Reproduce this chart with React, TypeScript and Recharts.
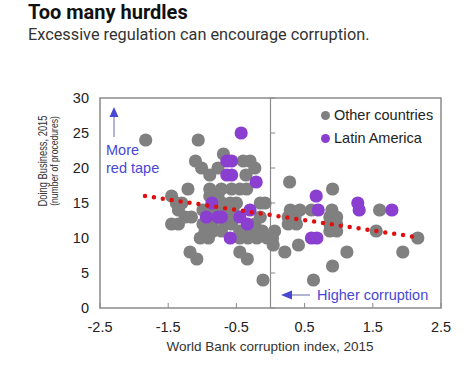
import { ScatterChart, Scatter, XAxis, YAxis, ReferenceLine, ReferenceArea, Legend } from 'recharts';

// World Bank corruption index (x) vs. number of procedures (y)
const otherCountries = [
  { x: -1.83, y: 24 }, { x: -1.06, y: 24 }, { x: -0.69, y: 22 }, { x: -1.1, y: 21 },
  { x: -1.01, y: 20 }, { x: -0.4, y: 21 }, { x: -0.3, y: 21 }, { x: -0.23, y: 20 },
  { x: -0.77, y: 20 }, { x: -0.89, y: 19 }, { x: -0.36, y: 19 }, { x: -1.21, y: 17 },
  { x: -0.89, y: 17 }, { x: -0.72, y: 17 }, { x: -0.57, y: 17 }, { x: -0.45, y: 17 },
  { x: -0.35, y: 17 }, { x: -0.89, y: 16 }, { x: -0.77, y: 16 }, { x: -1.45, y: 16 },
  { x: -1.38, y: 15 }, { x: -1.3, y: 15 }, { x: -0.71, y: 15 }, { x: -0.59, y: 15 },
  { x: -0.5, y: 15 }, { x: -0.15, y: 15 }, { x: -0.08, y: 15 }, { x: -1.35, y: 14 },
  { x: -0.99, y: 14 }, { x: -0.89, y: 14 }, { x: -0.74, y: 14 }, { x: -0.62, y: 14 },
  { x: -0.55, y: 14 }, { x: -1.25, y: 13 }, { x: -1.16, y: 13 }, { x: -0.62, y: 13 },
  { x: -0.52, y: 13 }, { x: -0.15, y: 13 }, { x: -1.45, y: 12 }, { x: -1.35, y: 12 },
  { x: -0.99, y: 12 }, { x: -0.86, y: 12 }, { x: -0.67, y: 12 }, { x: -0.57, y: 12 },
  { x: -0.23, y: 12 }, { x: -0.96, y: 11 }, { x: -0.84, y: 11 }, { x: -0.72, y: 11 },
  { x: -0.45, y: 11 }, { x: -0.35, y: 11 }, { x: -0.23, y: 11 }, { x: -0.12, y: 11 },
  { x: 0.06, y: 11 }, { x: -1.03, y: 10 }, { x: -0.91, y: 10 }, { x: -0.45, y: 10 },
  { x: -0.33, y: 10 }, { x: -0.2, y: 10 }, { x: -0.05, y: 10 }, { x: 0.03, y: 10 },
  { x: 0.04, y: 9 }, { x: -1.18, y: 8 }, { x: -1.08, y: 7 }, { x: -0.45, y: 8 },
  { x: -0.34, y: 7 }, { x: -0.11, y: 4 }, { x: 0.28, y: 18 }, { x: 0.91, y: 17 },
  { x: 0.29, y: 14 }, { x: 0.43, y: 14 }, { x: 0.6, y: 14 }, { x: 0.9, y: 14 },
  { x: 1.6, y: 14 }, { x: 0.26, y: 13 }, { x: 0.36, y: 13 }, { x: 0.87, y: 13 },
  { x: 0.97, y: 13 }, { x: 0.26, y: 12 }, { x: 0.38, y: 12 }, { x: 0.87, y: 12 },
  { x: 0.97, y: 12 }, { x: 0.87, y: 11 }, { x: 0.97, y: 11 }, { x: 1.55, y: 11 },
  { x: 2.16, y: 10 }, { x: 0.41, y: 9 }, { x: 0.21, y: 8 }, { x: 1.12, y: 8 },
  { x: 1.94, y: 8 }, { x: 0.91, y: 6 }, { x: 0.63, y: 4 },
];

const latinAmerica = [
  { x: -0.43, y: 25 }, { x: -0.64, y: 21 }, { x: -0.57, y: 21 }, { x: -0.64, y: 19 },
  { x: -0.57, y: 19 }, { x: -0.21, y: 18 }, { x: -0.86, y: 15 }, { x: -0.3, y: 14 },
  { x: -0.94, y: 13 }, { x: -0.77, y: 13 }, { x: -0.72, y: 13 }, { x: -0.45, y: 13 },
  { x: -0.34, y: 12 }, { x: -0.59, y: 10 }, { x: 0.67, y: 16 }, { x: 1.28, y: 15 },
  { x: 1.3, y: 14 }, { x: 0.7, y: 14 }, { x: 1.78, y: 14 }, { x: 0.6, y: 10 },
  { x: 0.68, y: 10 },
];

// dotted red fit line, read at its two ends
const trend = [
  { x: -1.84, y: 16 },
  { x: 2.09, y: 10.2 },
];

const xTicks = [-2.5, -1.5, -0.5, 0.5, 1.5, 2.5];
const yTicks = [0, 5, 10, 15, 20, 25, 30];

const GRAY = '#808080';
const PURPLE = '#8b3fd1';
const BLUE = '#4848d4';
const FONT = '"Liberation Sans", Arial, sans-serif';

const legendItems = [
  { name: 'Other countries', color: GRAY },
  { name: 'Latin America', color: PURPLE },
];

const dot = (color: string) => (props: any) => (
  <circle cx={props.cx} cy={props.cy} r={6.6} fill={color} />
);

function LegendBox() {
  return (
    <div style={{ fontFamily: FONT, fontSize: 14.5, color: '#222', lineHeight: '23px' }}>
      {legendItems.map((item) => (
        <div key={item.name} style={{ display: 'flex', alignItems: 'center', whiteSpace: 'nowrap' }}>
          <span
            style={{
              display: 'inline-block',
              width: 9,
              height: 9,
              borderRadius: '50%',
              background: item.color,
              marginRight: 4,
            }}
          />
          {item.name}
        </div>
      ))}
    </div>
  );
}

export default function App() {
  return (
    <div style={{ position: 'absolute', left: 0, top: 0, width: 474, height: 384, background: '#fff' }}>
      <ScatterChart
        width={474}
        height={384}
        margin={{ top: 98, right: 33, bottom: 36, left: 60 }}
      >
        <XAxis
          type="number"
          dataKey="x"
          domain={[-2.5, 2.5]}
          ticks={xTicks}
          axisLine={false}
          tickSize={-5}
          tickMargin={19}
          height={40}
          tickLine={{ stroke: '#8a8a8a' }}
          tick={{ fill: '#222', fontSize: 14.5, fontFamily: FONT }}
        />
        <YAxis
          type="number"
          dataKey="y"
          domain={[0, 30]}
          ticks={yTicks}
          axisLine={false}
          tickLine={false}
          tickSize={0}
          tickMargin={11}
          width={40}
          tick={{ fill: '#222', fontSize: 14.5, fontFamily: FONT }}
        />
        <ReferenceArea x1={-2.5} x2={2.5} y1={0} y2={30} fill="none" stroke="#8a8a8a" strokeWidth={1.5} />
        <ReferenceLine x={0} stroke="#8a8a8a" strokeWidth={1.2} />
        {yTicks.map((t) => (
          <ReferenceLine
            key={t}
            segment={[{ x: 0, y: t }, { x: 0.07, y: t }]}
            stroke="#8a8a8a"
            strokeWidth={1}
          />
        ))}
        <Scatter name="Other countries" data={otherCountries} fill={GRAY} shape={dot(GRAY)} isAnimationActive={false} />
        <Scatter name="Latin America" data={latinAmerica} fill={PURPLE} shape={dot(PURPLE)} isAnimationActive={false} />
        <Scatter
          data={trend}
          shape={() => <g />}
          line={{ stroke: '#e01010', strokeWidth: 4.5, strokeDasharray: '0 9', strokeLinecap: 'round' }}
          isAnimationActive={false}
        />
        <Legend
          layout="vertical"
          align="center"
          verticalAlign="middle"
          content={() => <LegendBox />}
          wrapperStyle={{ left: 321, top: 104, width: 140, height: 46 }}
        />
      </ScatterChart>

      <svg
        width={474}
        height={384}
        style={{ position: 'absolute', left: 0, top: 0, pointerEvents: 'none' }}
      >
        <text x={28} y={18.5} fontFamily="Roboto, sans-serif" fontWeight={700} fontSize={20} fill="#111">
          Too many hurdles
        </text>
        <text x={28} y={39.5} fontFamily="Roboto, sans-serif" fontSize={16.3} fill="#333">
          Excessive regulation can encourage corruption.
        </text>

        {/* more red tape arrow */}
        <line x1={114} y1={116} x2={114} y2={137} stroke="#8080b8" strokeWidth={1.2} />
        <polygon points="114,107 109.5,117 118.5,117" fill={BLUE} />
        <text x={106} y={155} fontFamily={FONT} fontSize={14.5} fill={BLUE}>More</text>
        <text x={106} y={173} fontFamily={FONT} fontSize={14.5} fill={BLUE}>red tape</text>

        {/* higher corruption arrow */}
        <line x1={291} y1={295} x2={310} y2={295} stroke="#8080b8" strokeWidth={1.2} />
        <polygon points="281,295 292,290.5 292,299.5" fill={BLUE} />
        <text x={317} y={300} fontFamily={FONT} fontSize={14.5} fill={BLUE}>Higher corruption</text>

        <text x={270} y={351} textAnchor="middle" fontFamily={FONT} fontSize={13.5} fill="#333">
          World Bank corruption index, 2015
        </text>
        <text
          transform="translate(47,161) rotate(-90) scale(0.75,1)"
          textAnchor="middle"
          fontFamily={FONT}
          fontSize={12.5}
          fill="#333"
        >
          Doing Business, 2015
        </text>
        <text
          transform="translate(58,161) rotate(-90) scale(0.78,1)"
          textAnchor="middle"
          fontFamily={FONT}
          fontSize={11}
          fill="#333"
        >
          (number of procedures)
        </text>
      </svg>
    </div>
  );
}
